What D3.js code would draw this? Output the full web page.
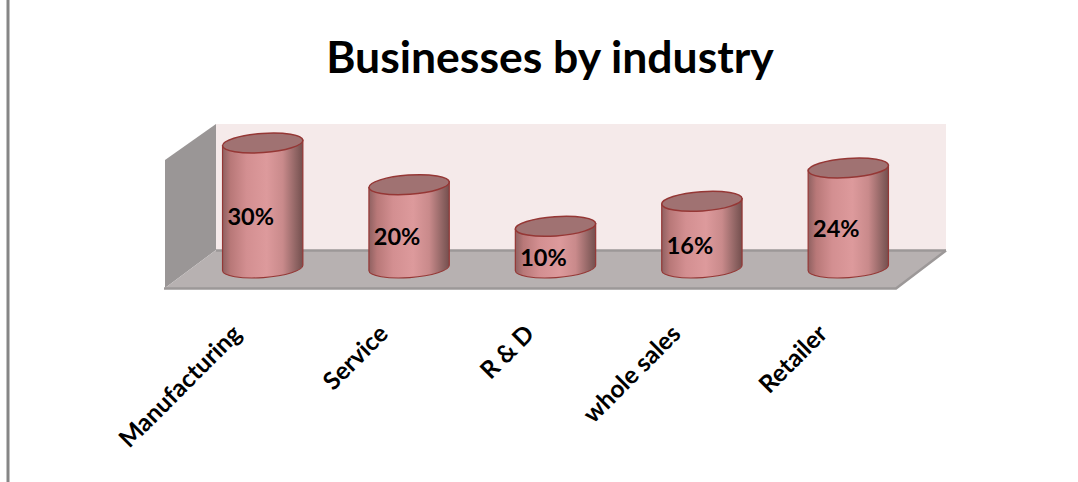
<!DOCTYPE html>
<html>
<head>
<meta charset="utf-8">
<script src="https://cdn.jsdelivr.net/npm/d3@7/dist/d3.min.js"></script>
<style>
  html, body { margin: 0; padding: 0; background: #fff; }
  svg { display: block; }
  text { font-family: Lato, "Open Sans", sans-serif; fill: #000; }
</style>
</head>
<body>
<svg id="chart" width="1078" height="482"></svg>
<script>
// Share of businesses per industry, in percent
const categories = ["Manufacturing", "Service", "R & D", "whole sales", "Retailer"];
const shares = [30, 20, 10, 16, 24];
const chartTitle = "Businesses by industry";

const svg = d3.select("#chart");

// Scales: band for the columns, linear for cylinder height
const x = d3.scaleBand().domain(categories).range([189.5, 921.5]).paddingInner(0.45).paddingOuter(0.225);
const y = d3.scaleLinear().domain([0, 30]).range([268, 143]);

const rx = x.bandwidth() / 2;
const ry = 9.6;
const tiltDeg = -4;
const tilt = tiltDeg * Math.PI / 180;
const dx = rx * Math.cos(tilt), dy = rx * Math.sin(tilt);

// Horizontal shading that gives the cylinders their round look
const defs = svg.append("defs");
const grad = defs.append("linearGradient").attr("id", "cylinderShade");
[[0, "#8f6161"], [0.1, "#b87878"], [0.3, "#d38f91"], [0.55, "#dd9a9c"], [0.75, "#c98a8b"], [0.92, "#8e6362"], [1, "#744f4e"]]
  .forEach(([o, c]) => grad.append("stop").attr("offset", o).attr("stop-color", c));

// Page edge on the left
svg.append("rect").attr("x", 6.5).attr("y", 0).attr("width", 3).attr("height", 482).attr("fill", "#868686");

// Title
svg.append("text")
  .attr("x", 550).attr("y", 73)
  .attr("text-anchor", "middle")
  .attr("font-size", 44.5).attr("font-weight", 700)
  .text(chartTitle);

// 3D box: back wall, side wall, floor
const room = svg.append("g");
const polygon = (pts, fill) => room.append("polygon").attr("points", pts.join(" ")).attr("fill", fill);
polygon([[216, 124], [946, 124], [946, 250], [216, 250]], "#f5eaea");
polygon([[165, 160], [216, 124], [216, 250], [165, 288]], "#9a9696");
polygon([[216, 250], [946, 250], [896, 288], [165, 288]], "#b7b1b1");
room.append("path").attr("d", "M216,250.5H946").attr("stroke", "#9c9898").attr("stroke-width", 2.5).attr("fill", "none");
room.append("path").attr("d", "M164,288.5H896L946,250.5").attr("stroke", "#9c9898").attr("stroke-width", 2.5).attr("fill", "none");

// Cylinders
const rows = categories.map((c, i) => ({ category: c, value: shares[i] }));
const bars = svg.append("g").selectAll("g").data(rows).join("g");

bars.append("path")
  .attr("d", d => {
    const cx = x(d.category) + rx, top = y(d.value), base = y(0);
    return `M${cx - dx},${top - dy}L${cx - dx},${base - dy}` +
      `A${rx},${ry} ${tiltDeg} 0 0 ${cx + dx},${base + dy}` +
      `L${cx + dx},${top + dy}Z`;
  })
  .attr("fill", "url(#cylinderShade)")
  .attr("stroke", "#953735").attr("stroke-width", 1.2);

bars.append("ellipse")
  .attr("cx", 0).attr("cy", 0).attr("rx", rx).attr("ry", ry)
  .attr("transform", d => `translate(${x(d.category) + rx},${y(d.value)}) rotate(${tiltDeg})`)
  .attr("fill", "#a07272")
  .attr("stroke", "#953735").attr("stroke-width", 1.5);

// Value labels, sitting low in the left half of each cylinder
bars.append("text")
  .attr("x", d => x(d.category) + 5)
  .attr("y", d => y(d.value / 2) + 19)
  .attr("font-size", 23.5).attr("font-weight", 700)
  .text(d => d.value + "%");

// Category axis with slanted labels
const axis = svg.append("g")
  .attr("transform", "translate(0,300)")
  .call(d3.axisBottom(x).tickSize(0).tickPadding(0));
axis.select(".domain").remove();
axis.selectAll("text")
  .attr("font-size", 24.5).attr("font-weight", 700)
  .attr("font-family", "Lato, sans-serif")
  .attr("text-anchor", "end")
  .attr("transform", "translate(-32,23) rotate(-45)");
</script>
</body>
</html>
